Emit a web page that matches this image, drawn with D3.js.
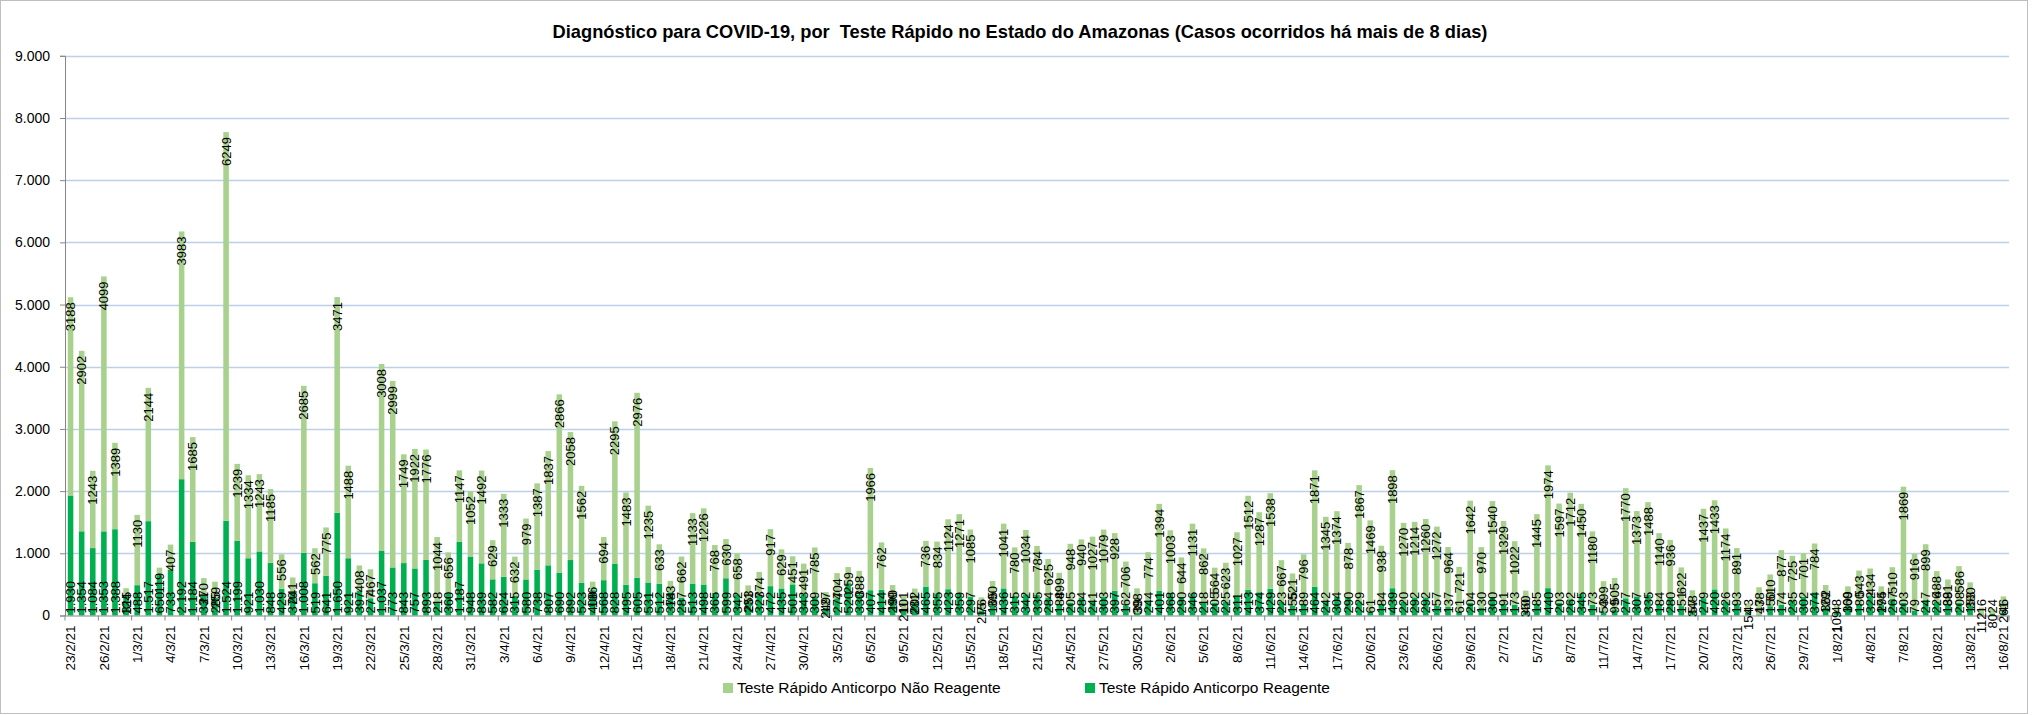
<!DOCTYPE html>
<html>
<head>
<meta charset="utf-8">
<script src="https://cdn.jsdelivr.net/npm/d3@7"></script>
<style>
  body { margin: 0; background: #fff; }
  svg { display: block; font-family: "Liberation Sans", Arial, sans-serif; }
</style>
</head>
<body>
<div id="chart"></div>
<script>
const title = 'Diagnóstico para COVID-19, por  Teste Rápido no Estado do Amazonas (Casos ocorridos há mais de 8 dias)';
const seriesNames = ['Teste Rápido Anticorpo Não Reagente', 'Teste Rápido Anticorpo Reagente'];

const dates = [
  '23/2/21','24/2/21','25/2/21','26/2/21','27/2/21','28/2/21',
  '1/3/21','2/3/21','3/3/21','4/3/21','5/3/21','6/3/21','7/3/21','8/3/21','9/3/21','10/3/21',
  '11/3/21','12/3/21','13/3/21','14/3/21','15/3/21','16/3/21','17/3/21','18/3/21','19/3/21','20/3/21',
  '21/3/21','22/3/21','23/3/21','24/3/21','25/3/21','26/3/21','27/3/21','28/3/21','29/3/21','30/3/21','31/3/21',
  '1/4/21','2/4/21','3/4/21','4/4/21','5/4/21','6/4/21','7/4/21','8/4/21','9/4/21','10/4/21',
  '11/4/21','12/4/21','13/4/21','14/4/21','15/4/21','16/4/21','17/4/21','18/4/21','19/4/21','20/4/21',
  '21/4/21','22/4/21','23/4/21','24/4/21','25/4/21','26/4/21','27/4/21','28/4/21','29/4/21','30/4/21',
  '1/5/21','2/5/21','3/5/21','4/5/21','5/5/21','6/5/21','7/5/21','8/5/21','9/5/21','10/5/21',
  '11/5/21','12/5/21','13/5/21','14/5/21','15/5/21','16/5/21','17/5/21','18/5/21','19/5/21','20/5/21',
  '21/5/21','22/5/21','23/5/21','24/5/21','25/5/21','26/5/21','27/5/21','28/5/21','29/5/21','30/5/21','31/5/21',
  '1/6/21','2/6/21','3/6/21','4/6/21','5/6/21','6/6/21','7/6/21','8/6/21','9/6/21','10/6/21',
  '11/6/21','12/6/21','13/6/21','14/6/21','15/6/21','16/6/21','17/6/21','18/6/21','19/6/21','20/6/21',
  '21/6/21','22/6/21','23/6/21','24/6/21','25/6/21','26/6/21','27/6/21','28/6/21','29/6/21','30/6/21',
  '1/7/21','2/7/21','3/7/21','4/7/21','5/7/21','6/7/21','7/7/21','8/7/21','9/7/21','10/7/21',
  '11/7/21','12/7/21','13/7/21','14/7/21','15/7/21','16/7/21','17/7/21','18/7/21','19/7/21','20/7/21',
  '21/7/21','22/7/21','23/7/21','24/7/21','25/7/21','26/7/21','27/7/21','28/7/21','29/7/21','30/7/21','31/7/21',
  '1/8/21','2/8/21','3/8/21','4/8/21','5/8/21','6/8/21','7/8/21','8/8/21','9/8/21','10/8/21',
  '11/8/21','12/8/21','13/8/21','14/8/21','15/8/21','16/8/21'
];

// Teste Rápido Anticorpo Reagente (dark green, bottom)
const reagente = [
  1930,1354,1084,1353,1388,315,
  488,1517,650,733,2192,1184,331,285,1524,1199,921,1030,848,429,370,1008,519,641,1650,921,397,277,1037,773,843,757,893,218,360,1187,948,
  839,582,624,315,580,738,807,690,892,523,408,568,828,495,605,531,512,374,287,513,498,365,599,342,231,327,472,435,501,343,
  309,127,277,520,330,407,414,299,101,202,465,355,423,359,297,76,165,436,315,342,335,284,188,205,284,241,303,397,162,39,244,
  401,368,290,346,218,205,225,311,413,374,429,223,155,189,464,242,304,290,229,61,184,439,220,292,292,157,137,61,204,130,
  300,191,173,40,185,440,203,262,345,173,53,99,277,307,335,184,280,151,57,279,420,226,193,43,17,150,174,235,302,374,129,
  48,160,180,322,174,267,203,79,247,226,188,208,153,16,24,46
];

// Teste Rápido Anticorpo Não Reagente (light green, top)
const naoReagente = [
  3188,2902,1243,4099,1389,124,
  1130,2144,119,407,3983,1685,270,259,6249,1239,1334,1243,1185,556,241,2685,562,775,3471,1488,408,467,3008,2999,1749,1922,1776,1044,656,1147,1052,
  1492,629,1333,632,979,1387,1837,2866,2058,1562,136,694,2295,1483,2976,1235,633,183,662,1133,1226,768,630,658,253,374,917,629,451,491,
  785,249,404,259,388,1966,762,190,211,231,736,834,1124,1271,1085,215,390,1041,780,1034,784,625,499,948,940,1027,1079,928,706,398,774,
  1394,1003,644,1131,862,564,623,1027,1512,1287,1538,667,521,796,1871,1345,1374,878,1867,1469,938,1898,1270,1214,1260,1272,964,721,1642,970,
  1540,1329,1022,360,1445,1974,1597,1712,1450,1180,499,505,1770,1373,1488,1140,936,622,348,1437,1433,1174,891,154,438,510,877,725,701,784,362,
  109,309,543,434,295,510,1869,916,899,488,391,586,380,112,80,261
];

const yTicks = [0, 1000, 2000, 3000, 4000, 5000, 6000, 7000, 8000, 9000];

const colorLight = '#a9d18e';
const colorDark = '#00b050';

const width = 2036;
const height = 715;
const plot = { left: 65, right: 2009, top: 55.8, bottom: 615.5 };

const ptBR = d3.formatLocale({ decimal: ',', thousands: '.', grouping: [3], currency: ['R$', ''] });
const fmt = ptBR.format(',d');

const table = dates.map((d, i) => ({ date: d, reagente: reagente[i], naoReagente: naoReagente[i] }));

const svg = d3.select('#chart')
  .append('svg')
  .attr('width', width)
  .attr('height', height);

// chart border
svg.append('rect')
  .attr('x', 0.5).attr('y', 0.5)
  .attr('width', 2027).attr('height', 713)
  .attr('fill', '#fff')
  .attr('stroke', '#bfbfbf');

const x = d3.scaleBand()
  .domain(dates)
  .range([plot.left, plot.right])
  .paddingInner(0.5)
  .paddingOuter(0.25);

const y = d3.scaleLinear().domain([0, 9000]).range([plot.bottom, plot.top]);
const step = x.step();

// title
const titleText = svg.append('text')
  .attr('x', 1020)
  .attr('y', 38)
  .attr('text-anchor', 'middle')
  .attr('font-weight', 'bold')
  .attr('font-size', 18)
  .style('white-space', 'pre')
  .text(title);
const tl = titleText.node().getComputedTextLength();
titleText.attr('font-size', 18 * 936 / tl);

// gridlines
svg.append('g')
  .attr('class', 'gridlines')
  .selectAll('line')
  .data(yTicks.filter((d) => d > 0))
  .join('line')
  .attr('x1', plot.left)
  .attr('x2', plot.right)
  .attr('y1', (d) => Math.round(y(d)) + 0.5)
  .attr('y2', (d) => Math.round(y(d)) + 0.5)
  .attr('stroke', '#bcd0e8')
  .attr('stroke-width', 1.3);

// y axis
const yAxis = svg.append('g')
  .attr('transform', `translate(${plot.left}, 0)`)
  .call(d3.axisLeft(y).tickValues(yTicks).tickFormat(fmt).tickSize(5).tickPadding(10));
yAxis.select('.domain').attr('stroke', '#868686');
yAxis.selectAll('.tick line').attr('stroke', '#868686');
yAxis.selectAll('text')
  .attr('font-size', 14)
  .attr('font-family', '"Liberation Sans", Arial, sans-serif')
  .attr('fill', '#000');

// bars
const stacked = d3.stack().keys(['reagente', 'naoReagente'])(table);
const colors = { reagente: colorDark, naoReagente: colorLight };

svg.append('g')
  .attr('class', 'bars')
  .selectAll('g')
  .data(stacked)
  .join('g')
  .attr('fill', (s) => colors[s.key])
  .selectAll('rect')
  .data((s) => s)
  .join('rect')
  .attr('x', (d) => x(d.data.date))
  .attr('width', x.bandwidth())
  .attr('y', (d) => y(d[1]))
  .attr('height', (d) => y(d[0]) - y(d[1]));

// x axis
const xAxis = svg.append('g')
  .attr('transform', `translate(0, ${plot.bottom})`)
  .call(d3.axisBottom(x)
    .tickValues(dates.filter((d, i) => i % 3 === 0))
    .tickSize(0)
    .tickPadding(0));
xAxis.select('.domain').attr('stroke', '#868686');
xAxis.selectAll('text')
  .attr('font-size', 13.5)
  .attr('font-family', '"Liberation Sans", Arial, sans-serif')
  .attr('fill', '#000')
  .attr('text-anchor', 'end')
  .attr('dy', '0.35em')
  .attr('transform', 'translate(0, 10) rotate(-90)');

// x tick marks at category boundaries
svg.append('g')
  .selectAll('line')
  .data(dates.filter((d, i) => i % 3 === 0).concat([null]))
  .join('line')
  .attr('x1', (d) => (d === null ? plot.right : x(d) + x.bandwidth() / 2 - step / 2))
  .attr('x2', (d) => (d === null ? plot.right : x(d) + x.bandwidth() / 2 - step / 2))
  .attr('y1', plot.bottom)
  .attr('y2', plot.bottom + 5)
  .attr('stroke', '#868686');

// data labels
const labels = svg.append('g')
  .attr('font-size', 13)
  .attr('fill', '#000');

labels.selectAll('text.dark')
  .data(table)
  .join('text')
  .attr('class', 'dark')
  .attr('text-anchor', 'start')
  .attr('dy', '0.35em')
  .attr('transform', (d) => `translate(${x(d.date) + x.bandwidth() / 2}, ${y(0) - 2}) rotate(-90)`)
  .text((d) => fmt(d.reagente));

labels.selectAll('text.light')
  .data(table)
  .join('text')
  .attr('class', 'light')
  .attr('text-anchor', 'end')
  .attr('dy', '0.35em')
  .attr('transform', (d) => `translate(${x(d.date) + x.bandwidth() / 2}, ${y(d.reagente + d.naoReagente) + 5}) rotate(-90)`)
  .text((d) => d.naoReagente);

// legend
const legendItems = [
  { name: seriesNames[0], color: colorLight, x: 723 },
  { name: seriesNames[1], color: colorDark, x: 1085 },
];
const legend = svg.append('g').attr('class', 'legend');
const li = legend.selectAll('g')
  .data(legendItems)
  .join('g')
  .attr('transform', (d) => `translate(${d.x}, 688)`);
li.append('rect')
  .attr('x', 0).attr('y', -5)
  .attr('width', 10).attr('height', 10)
  .attr('fill', (d) => d.color);
li.append('text')
  .attr('x', 14)
  .attr('dy', '0.35em')
  .attr('font-size', 15.5)
  .text((d) => d.name);
</script>
</body>
</html>
